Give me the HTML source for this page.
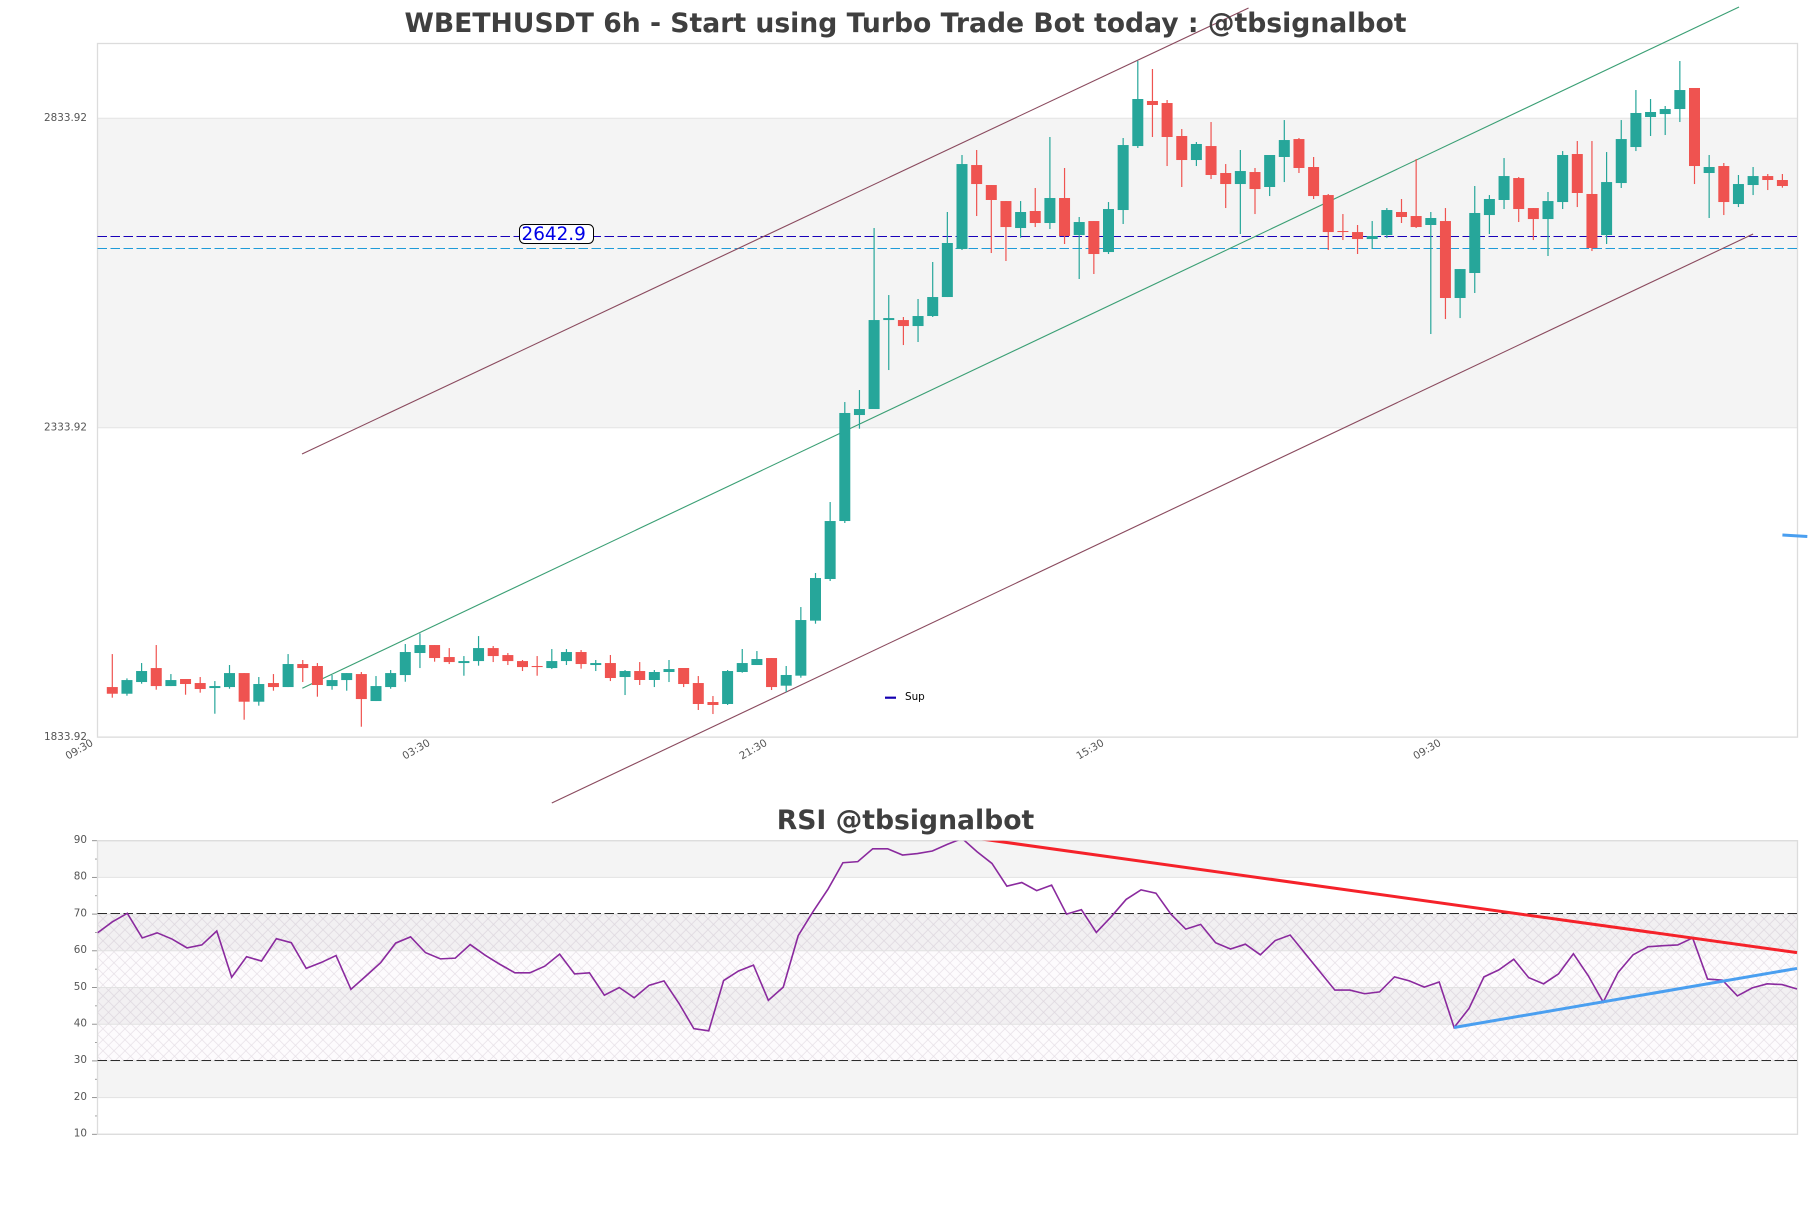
<!DOCTYPE html>
<html lang="en">
<head>
<meta charset="utf-8">
<title>WBETHUSDT 6h chart</title>
<style>
html,body{margin:0;padding:0;background:#fff;}
svg{display:block;font-family:"DejaVu Sans","Liberation Sans",sans-serif;}
</style>
</head>
<body>
<svg id="chart" xmlns="http://www.w3.org/2000/svg" width="1811" height="1208" viewBox="0 0 1811 1208">
  <defs>
    <pattern id="hatch" width="11" height="11" patternUnits="userSpaceOnUse" patternTransform="translate(97.5 913.3)">
      <path d="M0 0L11 11M11 0L0 11" stroke="#85708c" stroke-opacity="0.2" stroke-width="0.7" fill="none"/>
    </pattern>
    <clipPath id="rsi-clip"><rect x="97.5" y="840.7" width="1700" height="293.6"/></clipPath>
  </defs>
  <rect x="0" y="0" width="1811" height="1208" fill="#ffffff"/>
  <g id="price-panel"></g>
  <g id="rsi-panel"></g>
  <text x="905.5" y="32" text-anchor="middle" font-size="26.65" font-weight="700" fill="#3f3f3f">WBETHUSDT 6h - Start using Turbo Trade Bot today : @tbsignalbot</text>
  <text x="905.5" y="829" text-anchor="middle" font-size="26.65" font-weight="700" fill="#3f3f3f">RSI @tbsignalbot</text>
</svg>
<script>
// ---------- price data ----------
const opens = [1914.8,1904.0,1922.9,1945.5,1916.4,1927.8,1921.3,1913.2,1914.8,1937.4,1891.1,1921.3,1914.8,1952.0,1948.8,1916.4,1926.1,1935.8,1892.2,1914.8,1934.2,1969.8,1982.7,1963.3,1953.6,1956.8,1977.8,1966.5,1956.8,1948.8,1945.5,1956.8,1971.4,1950.4,1953.6,1931.0,1940.7,1926.2,1939.1,1945.6,1921.3,1890.6,1887.4,1939.1,1950.4,1961.7,1917.0,1933.2,2022.1,2089.4,2183.1,2354.4,2364.1,2507.9,2507.9,2498.2,2514.4,2545.1,2622.7,2758.4,2726.1,2700.2,2656.6,2684.1,2664.7,2705.1,2645.3,2667.9,2617.8,2685.7,2789.1,2861.9,2858.6,2805.3,2766.5,2789.1,2745.5,2727.7,2747.1,2722.9,2771.4,2800.4,2755.2,2709.9,2651.8,2650.1,2638.8,2645.3,2682.5,2676.0,2661.5,2667.9,2543.5,2583.9,2677.6,2701.9,2737.4,2688.9,2671.1,2698.6,2776.2,2711.6,2645.3,2729.3,2787.5,2836.0,2840.8,2848.9,2882.9,2745.5,2756.8,2695.4,2726.1,2740.6,2734.2];
const highs = [1968.1,1928.8,1953.6,1982.7,1935.8,1927.8,1931.0,1924.5,1950.4,1937.4,1931.0,1935.8,1968.1,1958.5,1953.6,1934.2,1937.4,1939.1,1932.6,1942.3,1984.3,2001.5,1982.7,1977.8,1964.9,1997.2,1981.1,1969.8,1958.5,1964.9,1976.2,1976.2,1974.6,1958.5,1966.6,1942.3,1955.2,1942.3,1958.5,1945.6,1932.6,1900.3,1942.3,1976.3,1973.0,1961.7,1948.8,2044.1,2099.1,2213.8,2375.4,2394.8,2656.6,2548.3,2512.8,2541.9,2601.7,2682.5,2774.6,2782.7,2726.1,2700.2,2700.2,2721.3,2803.7,2753.6,2674.4,2667.9,2698.6,2802.1,2926.5,2913.6,2863.5,2816.6,2795.6,2827.9,2760.0,2782.7,2753.6,2774.6,2831.1,2802.1,2771.4,2711.6,2679.2,2661.5,2667.9,2688.9,2703.5,2768.1,2682.5,2688.9,2590.3,2724.5,2709.9,2769.7,2739.0,2688.9,2714.8,2781.0,2797.2,2797.2,2779.4,2831.1,2879.6,2865.1,2853.8,2926.5,2882.9,2774.6,2761.7,2742.3,2755.2,2743.9,2743.9];
const lows = [1897.6,1900.8,1920.2,1910.5,1916.4,1902.4,1905.7,1871.7,1912.1,1862.0,1884.7,1908.9,1914.8,1922.9,1899.2,1910.5,1908.9,1850.7,1892.2,1912.1,1923.4,1945.5,1955.8,1952.0,1933.1,1949.3,1955.2,1950.4,1940.7,1933.1,1943.9,1950.4,1944.5,1940.7,1924.5,1901.9,1918.1,1914.8,1922.9,1914.8,1877.7,1871.2,1885.8,1938.0,1950.4,1910.0,1906.8,1929.9,2017.2,2086.2,2179.9,2332.3,2364.1,2427.1,2467.5,2472.4,2512.8,2545.1,2621.1,2676.0,2616.2,2603.3,2641.0,2658.2,2655.0,2630.8,2574.2,2582.3,2614.6,2663.1,2785.9,2803.7,2756.8,2722.9,2756.8,2735.8,2688.9,2646.9,2679.2,2708.3,2730.9,2745.5,2703.5,2621.1,2637.2,2614.6,2622.7,2640.4,2664.7,2656.6,2485.3,2509.5,2511.1,2551.6,2646.9,2687.3,2666.3,2637.2,2611.4,2687.3,2690.5,2619.4,2630.8,2721.3,2781.0,2805.3,2806.9,2827.9,2727.7,2672.8,2677.6,2690.5,2709.9,2718.0,2721.8];
const closes = [1904.0,1926.1,1940.7,1916.4,1926.1,1919.7,1911.6,1916.4,1937.4,1891.1,1919.7,1914.8,1952.0,1945.5,1918.1,1926.1,1937.4,1895.4,1916.4,1937.4,1971.4,1982.7,1961.7,1955.2,1956.8,1977.8,1964.9,1956.8,1947.1,1947.1,1956.8,1971.4,1952.0,1953.6,1929.4,1940.7,1926.2,1939.1,1943.9,1919.7,1887.4,1885.8,1940.7,1953.6,1960.1,1914.8,1934.3,2023.1,2091.0,2183.1,2357.7,2364.1,2507.9,2511.1,2498.2,2514.4,2545.1,2632.4,2760.0,2727.7,2701.9,2658.2,2682.5,2664.7,2705.1,2643.7,2666.3,2614.6,2687.3,2790.7,2865.1,2855.4,2803.7,2766.5,2792.4,2742.3,2727.7,2748.7,2719.6,2774.6,2798.8,2753.6,2708.3,2650.1,2650.1,2638.8,2643.7,2685.7,2674.4,2658.2,2672.8,2543.5,2590.3,2680.9,2703.5,2740.6,2687.3,2671.1,2700.2,2774.6,2713.2,2624.3,2730.9,2800.4,2842.5,2844.1,2848.9,2879.6,2756.8,2755.2,2698.6,2727.7,2740.6,2734.2,2724.5];

const priceTicks = [2833.92, 2333.92, 1833.92];
const priceTickLabels = ["2833.92", "2333.92", "1833.92"];
const timeTickIndex = [-1, 22, 45, 68, 91];
const timeTickLabels = ["09:30", "03:30", "21:30", "15:30", "09:30"];

const supportLevel = [2642.9];
const supportLabel = ["2642.9"];
const secondaryLevel = [2623.8];

const upperChannelIndex = [12.95, 77.56];
const upperChannelPrice = [2291.4, 3012.2];
const midChannelIndex = [12.97, 111.04];
const midChannelPrice = [1912.8, 3013.8];
const lowerChannelIndex = [30.0, 112.0];
const lowerChannelPrice = [1727.4, 2646.9];
const strayLineIndex = [114, 115.7];
const strayLinePrice = [2160.5, 2158.1];

// ---------- RSI data ----------
const rsiValues = [64.9,67.9,70.2,63.5,64.9,63.2,60.8,61.6,65.4,52.8,58.4,57.2,63.3,62.2,55.2,56.8,58.7,49.5,53.1,56.8,62.1,63.8,59.5,57.8,58.0,61.7,58.8,56.3,54.0,54.0,55.8,59.1,53.7,54.0,47.9,50.0,47.2,50.6,51.8,45.7,38.8,38.2,51.9,54.5,56.1,46.5,50.1,64.1,70.7,76.8,84.0,84.3,87.8,87.8,86.1,86.5,87.2,89.0,90.6,87.0,83.8,77.6,78.6,76.4,77.9,70.0,71.2,65.0,69.3,74.0,76.6,75.7,70.0,65.9,67.2,62.2,60.5,61.8,58.9,62.8,64.3,59.3,54.3,49.3,49.3,48.3,48.8,52.9,51.8,50.1,51.5,39.1,44.3,52.9,54.8,57.7,52.7,51.0,53.7,59.2,53.2,46.0,54.1,58.9,61.1,61.4,61.6,63.5,52.3,52.0,47.7,49.9,51.0,50.8,49.6];
const rsiMajorTicks = [90, 80, 70, 60, 50, 40, 30, 20, 10];
const rsiMinorTicks = [85, 75, 65, 55, 45, 35, 25, 15];
const rsiBands = [[90, 80], [70, 60], [50, 40], [30, 20]];
const rsiHatchRange = [70, 30];
const rsiGuides = [70, 30];
const rsiResistanceIndex = [58, 114];
const rsiResistanceValue = [91.2, 59.5];
const rsiSupportIndex = [91, 114];
const rsiSupportValue = [39.1, 55.2];

// ---------- axis functions ----------
const PLOT_LEFT = 97.5, PLOT_RIGHT = 1797.5;
const PRICE_TOP = 43.5, PRICE_BOTTOM = 737.1;
const RSI_TOP = 840.7, RSI_BOTTOM = 1134.3;
function xCandle(i) { return 112.3 + 14.65 * i; }
function yPrice(p) { return PRICE_BOTTOM - (p - 1833.92) * 0.6188; }
function xRsi(i) { return PLOT_LEFT + (PLOT_RIGHT - 0.5 - PLOT_LEFT) / (rsiValues.length - 1) * i; }
function yRsi(v) { return RSI_TOP + (90 - v) * (RSI_BOTTOM - RSI_TOP) / 80; }
function snap(y) { return Math.floor(y) + 0.5; }

const SVGNS = "http://www.w3.org/2000/svg";
function make(parent, tag, attrs, text) {
  const node = document.createElementNS(SVGNS, tag);
  for (const k in attrs) node.setAttribute(k, attrs[k]);
  if (text !== undefined) node.textContent = text;
  parent.appendChild(node);
  return node;
}

const pricePanel = document.getElementById("price-panel");
const rsiPanel = document.getElementById("rsi-panel");
let el;

// ---------- price panel ----------
el = make(pricePanel, "rect", {x: PLOT_LEFT, y: yPrice(priceTicks[0]), width: PLOT_RIGHT - PLOT_LEFT, height: yPrice(priceTicks[1]) - yPrice(priceTicks[0]), fill: "#f4f4f4"});



priceTicks.forEach(function (tick, i) {
  const line = make(pricePanel, "line", {x1: PLOT_LEFT, x2: PLOT_RIGHT, y1: yPrice(tick), y2: yPrice(tick), stroke: "#e4e4e4", "stroke-width": 1});
  
  
  const label = make(pricePanel, "text", {x: 87, y: yPrice(tick) + 2.8, "text-anchor": "end", "font-size": 10.4, fill: "#555555"}, priceTickLabels[i]);
  
  
});

el = make(pricePanel, "rect", {x: PLOT_LEFT, y: PRICE_TOP, width: PLOT_RIGHT - PLOT_LEFT, height: PRICE_BOTTOM - PRICE_TOP, fill: "none", stroke: "#dcdcdc", "stroke-width": 1.3});



timeTickIndex.forEach(function (idx, i) {
  const cx = xCandle(idx) - 18.6, cy = 749;
  const label = make(pricePanel, "text", {x: cx, y: cy + 3.8, "text-anchor": "middle", "font-size": 10.4, fill: "#555555", transform: "rotate(-30 " + cx + " " + cy + ")"}, timeTickLabels[i]);
  
  
});

// horizontal levels
el = make(pricePanel, "line", {x1: PLOT_LEFT, x2: PLOT_RIGHT, y1: snap(yPrice(secondaryLevel[0])), y2: snap(yPrice(secondaryLevel[0])), stroke: "#1f9bd8", "stroke-width": 1.1, "stroke-dasharray": "9.5 3.5"});


el = make(pricePanel, "line", {x1: PLOT_LEFT, x2: PLOT_RIGHT, y1: snap(yPrice(supportLevel[0])), y2: snap(yPrice(supportLevel[0])), stroke: "#1800b8", "stroke-width": 1.1, "stroke-dasharray": "9.5 3.5"});



// channel lines
el = make(pricePanel, "line", {x1: xCandle(upperChannelIndex[0]), y1: yPrice(upperChannelPrice[0]), x2: xCandle(upperChannelIndex[1]), y2: yPrice(upperChannelPrice[1]), stroke: "#8a4a5e", "stroke-width": 1.1});


el = make(pricePanel, "line", {x1: xCandle(midChannelIndex[0]), y1: yPrice(midChannelPrice[0]), x2: xCandle(midChannelIndex[1]), y2: yPrice(midChannelPrice[1]), stroke: "#3a9f74", "stroke-width": 1.1});


el = make(pricePanel, "line", {x1: xCandle(lowerChannelIndex[0]), y1: yPrice(lowerChannelPrice[0]), x2: xCandle(lowerChannelIndex[1]), y2: yPrice(lowerChannelPrice[1]), stroke: "#8a4a5e", "stroke-width": 1.1});


el = make(pricePanel, "line", {x1: xCandle(strayLineIndex[0]), y1: yPrice(strayLinePrice[0]), x2: xCandle(strayLineIndex[1]), y2: yPrice(strayLinePrice[1]), stroke: "#4a9ff0", "stroke-width": 3});



// candles
opens.forEach(function (open, i) {
  const close = closes[i];
  const up = close >= open;
  const color = up ? "#26a69a" : "#ef5350";
  const cx = xCandle(i);
  const wick = make(pricePanel, "line", {x1: cx, x2: cx, y1: yPrice(highs[i]), y2: yPrice(lows[i]), stroke: color, "stroke-width": 1.2});
  
  
  const top = yPrice(Math.max(open, close));
  const bottom = yPrice(Math.min(open, close));
  const body = make(pricePanel, "rect", {x: cx - 5.5, y: top, width: 11, height: Math.max(bottom - top, 1), fill: color});
  
  
});

// level label
el = make(pricePanel, "rect", {x: 519.5, y: 224.5, width: 74, height: 19, rx: 5, ry: 5, fill: "#ffffff", stroke: "#000000", "stroke-width": 1});


el = make(pricePanel, "text", {x: 521.5, y: 240, "font-size": 18.4, fill: "#0000e6"}, supportLabel[0]);



// legend
el = make(pricePanel, "line", {x1: 885, x2: 896, y1: 697.7, y2: 697.7, stroke: "#1500b0", "stroke-width": 2.2});


el = make(pricePanel, "text", {x: 905, y: 700, "font-size": 10.4, fill: "#000000"}, "Sup");



// ---------- RSI panel ----------
rsiBands.forEach(function (band) {
  const rect = make(rsiPanel, "rect", {x: PLOT_LEFT, y: yRsi(band[0]), width: PLOT_RIGHT - PLOT_LEFT, height: yRsi(band[1]) - yRsi(band[0]), fill: "#f4f4f4"});
  
  
});

el = make(rsiPanel, "rect", {x: PLOT_LEFT, y: yRsi(rsiHatchRange[0]), width: PLOT_RIGHT - PLOT_LEFT, height: yRsi(rsiHatchRange[1]) - yRsi(rsiHatchRange[0]), fill: "#a060b0", "fill-opacity": 0.022});


el = make(rsiPanel, "rect", {x: PLOT_LEFT, y: yRsi(rsiHatchRange[0]), width: PLOT_RIGHT - PLOT_LEFT, height: yRsi(rsiHatchRange[1]) - yRsi(rsiHatchRange[0]), fill: "url(#hatch)"});



rsiMajorTicks.forEach(function (tick) {
  const grid = make(rsiPanel, "line", {x1: PLOT_LEFT, x2: PLOT_RIGHT, y1: yRsi(tick), y2: yRsi(tick), stroke: "#e2e2e2", "stroke-width": 1});
  
  
  const mark = make(rsiPanel, "line", {x1: 92, x2: PLOT_LEFT, y1: yRsi(tick), y2: yRsi(tick), stroke: "#888888", "stroke-width": 0.9});
  
  
  const label = make(rsiPanel, "text", {x: 87, y: yRsi(tick) + 2.3, "text-anchor": "end", "font-size": 10.4, fill: "#555555"}, String(tick));
  
  
});
rsiMinorTicks.forEach(function (tick) {
  const mark = make(rsiPanel, "line", {x1: 95, x2: PLOT_LEFT, y1: yRsi(tick), y2: yRsi(tick), stroke: "#888888", "stroke-width": 0.8});
  
  
});

el = make(rsiPanel, "rect", {x: PLOT_LEFT, y: RSI_TOP, width: PLOT_RIGHT - PLOT_LEFT, height: RSI_BOTTOM - RSI_TOP, fill: "none", stroke: "#dcdcdc", "stroke-width": 1.3});



rsiGuides.forEach(function (level) {
  const guideY = snap(yRsi(level) - 0.6);
  const guide = make(rsiPanel, "line", {x1: PLOT_LEFT, x2: PLOT_RIGHT, y1: guideY, y2: guideY, stroke: "#2c2c2c", "stroke-width": 1, "stroke-dasharray": "9.5 3.5"});
  
  
});

el = make(rsiPanel, "polyline", {points: rsiValues.map(function (v, i) { return xRsi(i) + "," + yRsi(v); }).join(" "), fill: "none", stroke: "#8a2a9e", "stroke-width": 1.6, "stroke-linejoin": "miter", "clip-path": "url(#rsi-clip)"});



el = make(rsiPanel, "line", {x1: xRsi(rsiResistanceIndex[0]), y1: yRsi(rsiResistanceValue[0]), x2: xRsi(rsiResistanceIndex[1]), y2: yRsi(rsiResistanceValue[1]), stroke: "#f5222a", "stroke-width": 3, "clip-path": "url(#rsi-clip)"});


el = make(rsiPanel, "line", {x1: xRsi(rsiSupportIndex[0]), y1: yRsi(rsiSupportValue[0]), x2: xRsi(rsiSupportIndex[1]), y2: yRsi(rsiSupportValue[1]), stroke: "#4a9ff0", "stroke-width": 3, "clip-path": "url(#rsi-clip)"});


</script>
</body>
</html>
